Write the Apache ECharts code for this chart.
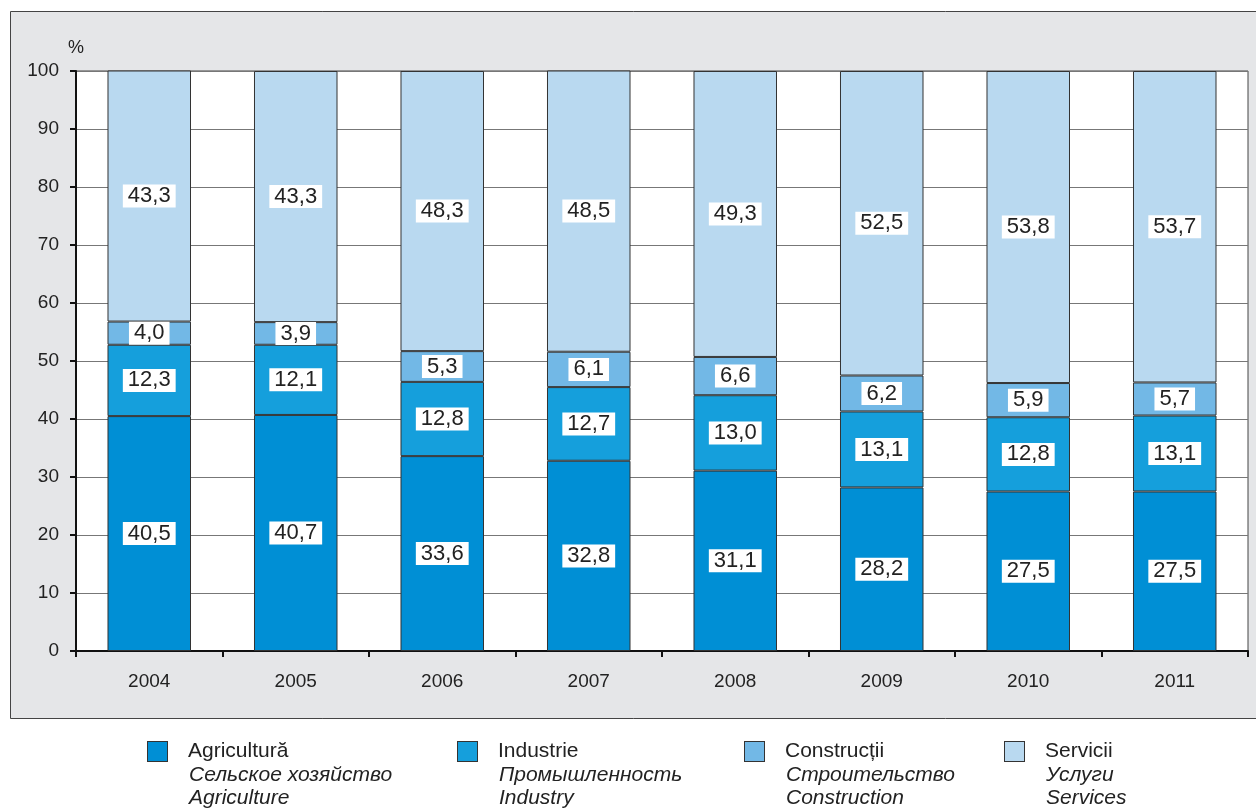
<!DOCTYPE html>
<html>
<head>
<meta charset="utf-8">
<script src="https://cdn.jsdelivr.net/npm/echarts@6/dist/echarts.min.js"></script>
<style>
html,body{margin:0;padding:0;background:#fff;}
#chart{width:1256px;height:810px;}
</style>
</head>
<body>
<div id="chart"></div>
<script>
const years = ['2004','2005','2006','2007','2008','2009','2010','2011'];
const agriculture = [40.5, 40.7, 33.6, 32.8, 31.1, 28.2, 27.5, 27.5];
const industry = [12.3, 12.1, 12.8, 12.7, 13.0, 13.1, 12.8, 13.1];
const construction = [4.0, 3.9, 5.3, 6.1, 6.6, 6.2, 5.9, 5.7];
const services = [43.3, 43.3, 48.3, 48.5, 49.3, 52.5, 53.8, 53.7];
const namesRo = ['Agricultură', 'Industrie', 'Construcții', 'Servicii'];
const namesRu = ['Сельское хозяйство', 'Промышленность', 'Строительство', 'Услуги'];
const namesEn = ['Agriculture', 'Industry', 'Construction', 'Services'];
const colors = ['#008fd5', '#159fdc', '#72b8e6', '#b9d9f0'];
const seriesValues = [agriculture, industry, construction, services];
const legendLefts = [143, 453, 740, 1000];

const FONT = '"Liberation Sans", Arial, Helvetica, sans-serif';
const chart = echarts.init(document.getElementById('chart'), null, {renderer: 'canvas'});

const rich = {
  g: {width: 21},
  g2: {width: 41},
  r: {fontSize: 21, lineHeight: 23.5, color: '#222', fontFamily: FONT},
  i: {fontSize: 21, lineHeight: 23.5, color: '#222', fontStyle: 'italic', fontFamily: FONT}
};
colors.forEach((c, i) => {
  rich['s' + i] = {width: 19, height: 19, backgroundColor: c, borderColor: '#333', borderWidth: 1};
});

const legends = namesRo.map((n, i) => ({
  left: legendLefts[i],
  top: 741,
  padding: 0,
  icon: 'none',
  itemWidth: 0,
  itemHeight: 0,
  selectedMode: false,
  data: [n],
  formatter: () => `{s${i}|}{g|}{r|${namesRo[i]}}\n{g2|}{i|${namesRu[i]}}\n{g2|}{i|${namesEn[i]}}`,
  textStyle: {rich: rich, color: '#222', fontFamily: FONT}
}));

const fmt = v => v.toFixed(1).replace('.', ',');

const series = namesRo.map((n, i) => ({
  name: n,
  type: 'bar',
  stack: 'total',
  barWidth: '57%',
  data: seriesValues[i],
  itemStyle: {color: colors[i], borderColor: '#333', borderWidth: 1},
  label: {
    show: true,
    position: 'inside',
    formatter: p => fmt(p.value),
    color: '#222',
    fontSize: 22,
    lineHeight: 22,
    fontFamily: FONT,
    backgroundColor: '#fff',
    padding: [1, 5, 0, 5]
  },
  emphasis: {disabled: true}
}));

chart.setOption({
  animation: false,
  color: colors,
  graphic: [{
    type: 'rect',
    z: -10,
    left: 10,
    top: 11,
    shape: {width: 1260, height: 707},
    style: {fill: '#e5e6e8', stroke: '#444', lineWidth: 1}
  }],
  legend: legends,
  grid: {
    left: 76, right: 8, top: 71, bottom: 159,
    show: true,
    backgroundColor: '#fff',
    borderColor: '#444',
    borderWidth: 1
  },
  xAxis: {
    type: 'category',
    data: years,
    axisLine: {lineStyle: {color: '#111', width: 2}},
    axisTick: {show: true, length: 6, lineStyle: {color: '#111', width: 2}},
    axisLabel: {color: '#222', fontSize: 19, fontFamily: FONT, margin: 21}
  },
  yAxis: {
    type: 'value',
    min: 0, max: 100, interval: 10,
    name: '%',
    nameLocation: 'end',
    nameGap: 14,
    nameTextStyle: {color: '#222', fontSize: 18, fontFamily: FONT, align: 'center'},
    axisLine: {show: true, lineStyle: {color: '#111', width: 2}},
    axisTick: {show: true, length: 6, lineStyle: {color: '#111', width: 2}},
    axisLabel: {color: '#222', fontSize: 19, fontFamily: FONT, margin: 17},
    splitLine: {show: true, lineStyle: {color: '#777', width: 1}}
  },
  series: series
});
</script>
</body>
</html>
